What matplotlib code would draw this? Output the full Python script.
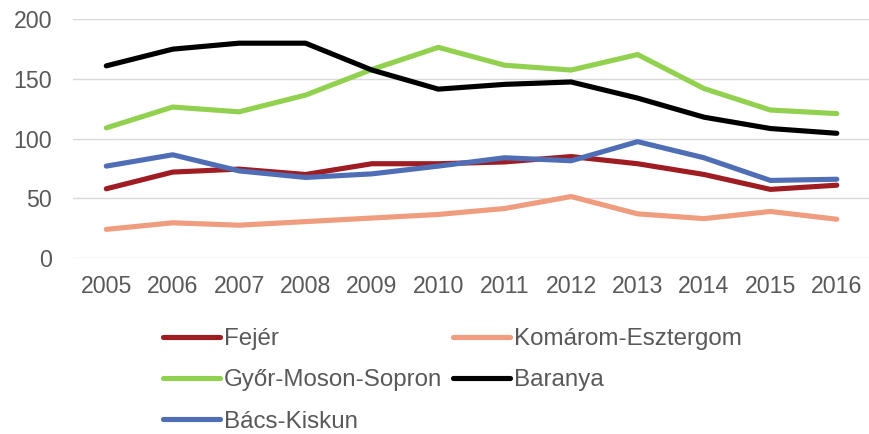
import matplotlib.pyplot as plt

plt.rcParams.update(
    {
        "font.family": "Liberation Sans",
        "font.size": 14,
    }
)

years = [str(y) for y in range(2005, 2017)]

fejer = [58, 72, 74.5, 70, 79, 79, 80.5, 85, 79, 70, 57.5, 61]
komarom = [24, 29.5, 27.5, 30.5, 33.5, 36.5, 41.5, 51.5, 37, 33, 39, 32.5]
gyor = [109, 126.5, 122.5, 136.5, 158, 176.5, 161.5, 157.5, 170.5, 142, 124, 121]
baranya = [161, 175, 180, 180, 157.5, 141.5, 145.5, 147.5, 134, 118, 108.5, 104.5]
bacs = [77, 86.5, 73, 67.5, 70.5, 77, 84, 81.5, 97.5, 84, 65, 66]

series = [
    ("Fejér", fejer, "#9E1C22"),
    ("Komárom-Esztergom", komarom, "#F09C7E"),
    ("Győr-Moson-Sopron", gyor, "#92D050"),
    ("Baranya", baranya, "#000000"),
    ("Bács-Kiskun", bacs, "#4F6EB6"),
]

fig = plt.figure(figsize=(8.7, 4.34), dpi=100)
ax = fig.add_axes([0.084, 0.4055, 0.916, 0.55])

lines = {}
for name, vals, col in series:
    (ln,) = ax.plot(years, vals, color=col, lw=3.7, solid_capstyle="round",
                    solid_joinstyle="round", label=name)
    lines[name] = ln

ax.set_ylim(0, 200)
ax.set_yticks([0, 50, 100, 150, 200])
ax.set_xlim(-0.5, len(years) - 0.5)
ax.grid(axis="y", color="#D9D9D9", lw=1)
ax.set_axisbelow(True)
for s in ax.spines.values():
    s.set_visible(False)
ax.tick_params(axis="both", length=0, labelsize=16.7, colors="#595959")
ax.tick_params(axis="y", pad=15)
ax.tick_params(axis="x", pad=12.5)

# legend: two columns, filled row by row like the original
order = ["Fejér", "Győr-Moson-Sopron", "Bács-Kiskun", "Komárom-Esztergom", "Baranya"]
fig.legend(
    [lines[n] for n in order],
    order,
    ncol=2,
    loc="upper left",
    bbox_to_anchor=(0.1874, 0.2443),
    frameon=False,
    borderpad=0,
    borderaxespad=0,
    fontsize=17.4,
    handlelength=2.35,
    handletextpad=0.17,
    columnspacing=0.45,
    labelspacing=0.8,
    labelcolor="#595959",
)

plt.savefig("out.png", dpi=100)
plt.close(fig)
